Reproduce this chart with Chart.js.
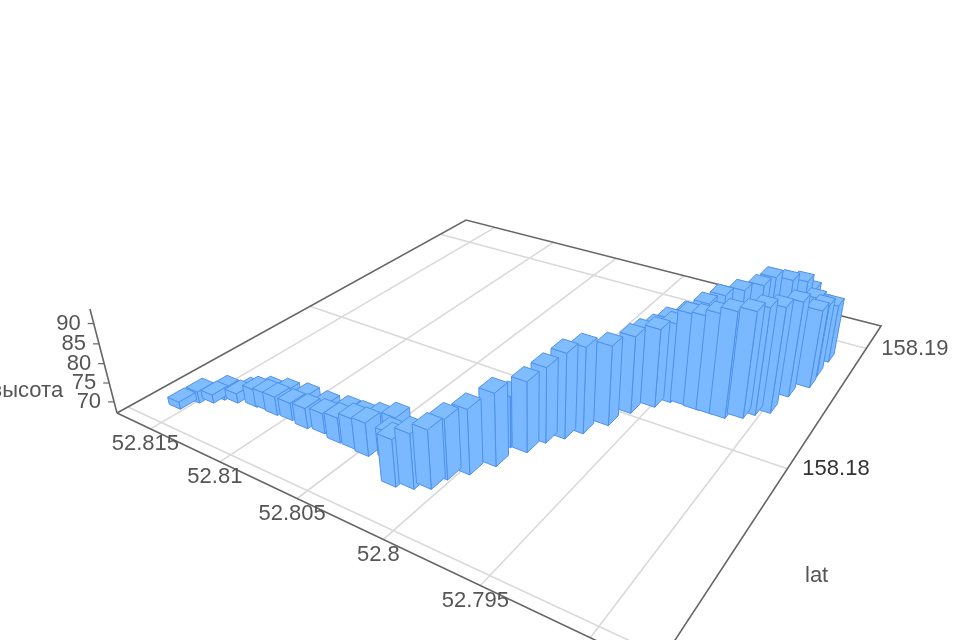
<!DOCTYPE html>
<html>
<head>
<meta charset="utf-8">
<style>
  html, body { margin: 0; padding: 0; background: #fff; overflow: hidden; }
  canvas { display: block; filter: blur(0.6px); }
</style>
<script src="https://cdn.jsdelivr.net/npm/chart.js@4"></script>
</head>
<body>
<canvas id="myChart" width="960" height="640"></canvas>
<script>
/* data */
var lonValues = [
  52.81559, 52.81521, 52.81459, 52.81432, 52.81353, 52.81338, 52.81240, 52.81176,
  52.81098, 52.81000, 52.80886, 52.80783, 52.80667, 52.80572, 52.80480,
  52.81209, 52.81120, 52.80992, 52.80849, 52.80716, 52.80612, 52.80507, 52.80416,
  52.80222, 52.80143, 52.80077, 52.80056, 52.79992, 52.79925, 52.79862, 52.79827,
  52.79767, 52.79713, 52.79642, 52.79598, 52.79520, 52.79396, 52.79320, 52.79178,
  52.79101, 52.79059, 52.79001, 52.78975, 52.78911, 52.78914, 52.78908,
  52.79624, 52.79588, 52.79547, 52.79483, 52.79427, 52.79371, 52.79308, 52.79236,
  52.79204, 52.79139, 52.79081, 52.79055, 52.79006, 52.78969,
  52.79250, 52.79470, 52.80366, 52.79950
];
var latValues = [
  158.17139, 158.17208, 158.17238, 158.17276, 158.17289, 158.17331, 158.17309, 158.17315,
  158.17311, 158.17317, 158.17309, 158.17319, 158.17306, 158.17307, 158.17300,
  158.17350, 158.17376, 158.17387, 158.17383, 158.17391, 158.17386, 158.17391, 158.17405,
  158.17217, 158.17241, 158.17273, 158.17344, 158.17409, 158.17497, 158.17626, 158.17712,
  158.17772, 158.17837, 158.17934, 158.18053, 158.18141, 158.18218, 158.18213, 158.18216,
  158.18253, 158.18297, 158.18342, 158.18491, 158.18602, 158.18700, 158.18840,
  158.18177, 158.18238, 158.18294, 158.18362, 158.18426, 158.18481, 158.18559, 158.18622,
  158.18686, 158.18757, 158.18815, 158.18875, 158.18830, 158.18850,
  158.18215, 158.18204, 158.17326, 158.17620
];
var heightValues = [
  68.9, 70.0, 69.2, 70.0, 69.5, 69.2, 71.6, 71.6,
  71.9, 71.6, 72.3, 72.3, 73.5, 74.8, 75.5,
  70.8, 70.8, 71.1, 71.3, 71.8, 72.3, 73.3, 74.3,
  78.7, 80.6, 81.5, 81.9, 83.1, 85.1, 84.7, 86.0,
  88.5, 88.8, 87.3, 86.8, 87.2, 90.5, 91.1, 94.0,
  94.0, 94.3, 93.9, 91.7, 87.4, 86.0, 82.5,
  84.4, 84.4, 85.3, 85.9, 87.3, 88.7, 88.8, 89.4,
  90.3, 88.6, 87.5, 84.2, 83.5, 82.2,
  92.5, 87.5, 74.0, 80.0
];
var lonTicks = [52.815, 52.81, 52.805, 52.8, 52.795];
var lonGrid = [52.815, 52.81, 52.805, 52.8, 52.795, 52.79];
var latTicks = [158.19, 158.18];
var latGrid = [158.19, 158.18, 158.17];
var heightTicks = [90, 85, 80, 75, 70];
var latName = 'lat';
var heightName = 'высота';

/* axis ranges of the floor and the bars */
var lonStart = 52.8176, lonSpan = 0.0303;
var latStart = 158.1695, latSpan = 0.02288;
var heightBase = 67, heightTop = 93.5;
var barLon = 0.00085, barLat = 0.0008;

/* camera: floor homography plus vanishing point of the vertical */
var cam = {a: 345.2, b: 562.9, c: 117, d: 58.3, e: -92, f: 413, g: -0.2955, h: 0.459,
           wz: -0.00232, vx: 530, vy: 2000};

function floorW(lon, lat) {
  var s = (lonStart - lon) / lonSpan, t = (lat - latStart) / latSpan;
  return cam.g * s + cam.h * t + 1;
}
function project(lon, lat, height) {
  var s = (lonStart - lon) / lonSpan, t = (lat - latStart) / latSpan;
  var w = cam.wz * (height - heightBase);
  var den = cam.g * s + cam.h * t + 1 + w;
  return {
    x: (cam.a * s + cam.b * t + cam.c + w * cam.vx) / den,
    y: (cam.d * s + cam.e * t + cam.f + w * cam.vy) / den
  };
}

var lonEnd = lonStart - lonSpan, latEnd = latStart + latSpan;
var barFill = '#7ab9ff', barTop = '#80bdff', barEdge = '#4f90ea';

function lineSet(points, color, width) {
  return {
    data: points, showLine: true, pointRadius: 0, borderColor: color, borderWidth: width,
    fill: false, clip: false
  };
}
function faceSet(points, color) {
  return {
    data: points.concat([points[0]]), showLine: true, pointRadius: 0, tension: 0,
    borderColor: barEdge, borderWidth: 1, borderJoinStyle: 'round',
    backgroundColor: color, fill: 'shape', clip: false
  };
}

/* bars, nearest first because Chart.js paints the first dataset last */
var barOrder = lonValues.map(function(v, i) { return i; });
barOrder.sort(function(p, q) {
  return floorW(lonValues[p], latValues[p]) - floorW(lonValues[q], latValues[q]);
});

var datasetses = [];
barOrder.forEach(function(i) {
  var lo0 = lonValues[i] + barLon / 2, lo1 = lonValues[i] - barLon / 2;
  var la0 = latValues[i] - barLat / 2, la1 = latValues[i] + barLat / 2;
  var top = heightValues[i];
  datasetses.push(faceSet([
    project(lo0, la0, top), project(lo1, la0, top), project(lo1, la1, top), project(lo0, la1, top)
  ], barTop));
  datasetses.push(faceSet([
    project(lo0, la0, top), project(lo1, la0, top), project(lo1, la0, heightBase), project(lo0, la0, heightBase)
  ], barFill));
  datasetses.push(faceSet([
    project(lo1, la0, top), project(lo1, la1, top), project(lo1, la1, heightBase), project(lo1, la0, heightBase)
  ], barFill));
});

/* frame in front of the grid, grid behind */
var frameColor = '#666666', gridColor = '#d9d9d9';
datasetses.push(lineSet([project(lonStart, latStart, heightBase), project(lonStart, latEnd, heightBase), project(lonEnd, latEnd, heightBase), project(lonEnd, latStart, heightBase), project(lonStart, latStart, heightBase)], frameColor, 1.6));
datasetses.push(lineSet([project(lonStart, latStart, heightBase), project(lonStart, latStart, heightTop)], frameColor, 1.6));
heightTicks.forEach(function(v) {
  var p = project(lonStart, latStart, v);
  datasetses.push(lineSet([p, {x: p.x - 6, y: p.y}], frameColor, 1.2));
});
lonGrid.forEach(function(v) {
  datasetses.push(lineSet([project(v, latStart, heightBase), project(v, latEnd, heightBase)], gridColor, 1.6));
});
latGrid.forEach(function(v) {
  datasetses.push(lineSet([project(lonStart, v, heightBase), project(lonEnd, v, heightBase)], gridColor, 1.6));
});

var axisText = {
  id: 'axisText',
  afterDatasetsDraw: function(chart) {
    var ctx = chart.ctx;
    var sx = chart.scales.x, sy = chart.scales.y;
    function put(text, p, dx, dy, align, color) {
      ctx.textAlign = align;
      ctx.fillStyle = color || '#555555';
      ctx.fillText(text, sx.getPixelForValue(p.x) + dx, sy.getPixelForValue(p.y) + dy);
    }
    ctx.save();
    ctx.font = '22px "Liberation Sans", Arial, sans-serif';
    ctx.textBaseline = 'middle';
    lonTicks.forEach(function(v) {
      put(String(v), project(v, latStart, heightBase), -5, 15, 'center');
    });
    latTicks.forEach(function(v) {
      put(String(v), project(lonEnd, v, heightBase), 15, 0, 'left', v == 158.18 ? '#333333' : '#555555');
    });
    heightTicks.forEach(function(v) {
      put(String(v), project(lonStart, latStart, v), -13, 0, 'right');
    });
    put(heightName, project(lonStart, latStart, 73), -48, 0, 'right');
    put(latName, project(lonEnd, 158.1737, heightBase), 88, 0, 'left');
    ctx.restore();
  }
};

var ctx = document.getElementById('myChart').getContext('2d');
var myChart = new Chart(ctx, {
  type: 'scatter',
  data: { datasets: datasetses },
  options: {
    responsive: false,
    animation: false,
    events: [],
    layout: { padding: 0 },
    plugins: { legend: { display: false }, tooltip: { enabled: false } },
    scales: {
      x: { type: 'linear', display: false, min: 0, max: 960 },
      y: { type: 'linear', display: false, min: 0, max: 640, reverse: true }
    }
  },
  plugins: [axisText]
});
</script>
</body>
</html>
